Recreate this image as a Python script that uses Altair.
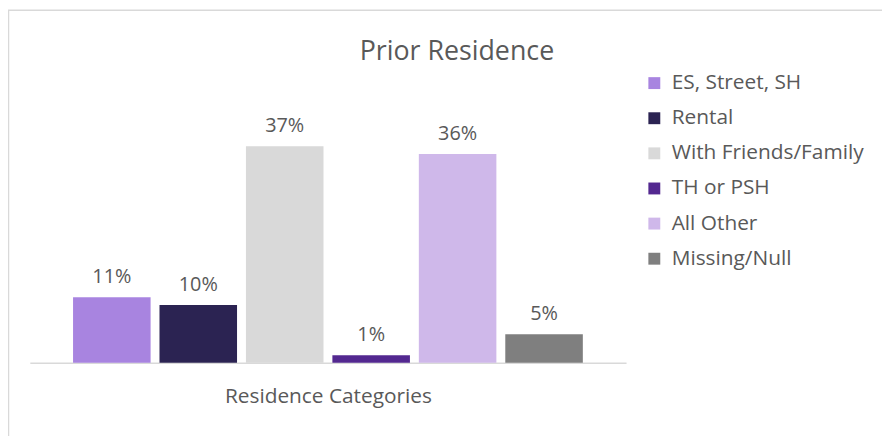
import altair as alt
import pandas as pd

categories = ["ES, Street, SH", "Rental", "With Friends/Family", "TH or PSH", "All Other", "Missing/Null"]
shares = [0.112, 0.099, 0.370, 0.013, 0.357, 0.049]
colors = ["#a884e0", "#2b2352", "#d9d9d9", "#532890", "#cfb8ea", "#7f7f7f"]

df = pd.DataFrame({"category": categories, "share": shares})
FONT = "Open Sans"
TXT = "#595959"

x = alt.X(
    "category:N", sort=categories,
    scale=alt.Scale(paddingInner=0.103, paddingOuter=0.5),
    axis=alt.Axis(labels=False, ticks=False, domainColor="#d9d9d9", domainWidth=1.5,
                  title="Residence Categories", titleFontSize=21, titleFont=FONT,
                  titleFontWeight="normal", titleColor=TXT, titlePadding=23),
)
y = alt.Y("share:Q", scale=alt.Scale(domain=[0, 0.4]), axis=None)
color = alt.Color(
    "category:N", sort=categories,
    scale=alt.Scale(domain=categories, range=colors),
    legend=alt.Legend(title=None, orient="none", legendX=619, legendY=-56.5,
                      symbolType="square", symbolSize=144, symbolStrokeWidth=0,
                      labelFontSize=21, labelFont=FONT, labelColor=TXT, labelLimit=400,
                      rowPadding=13.4, labelOffset=7, padding=0),
)

bars = alt.Chart(df).mark_bar().encode(x=x, y=y, color=color)
labels = alt.Chart(df).mark_text(dy=-14, baseline="alphabetic", fontSize=20, font=FONT, color=TXT).encode(
    x=x, y=y, text=alt.Text("share:Q", format=".0%")
)
frame = alt.Chart(pd.DataFrame({"a": [0]})).mark_rect(fillOpacity=0, stroke="#d9d9d9", strokeWidth=1.5).encode(
    x=alt.value(-21.5), x2=alt.value(900), y=alt.value(-119.5), y2=alt.value(500)
)

chart = alt.layer(frame, bars, labels).properties(
    width=601, height=236,
    autosize="none",
    padding={"left": 22, "top": 120, "right": 258, "bottom": 72},
    title=alt.Title("Prior Residence", fontSize=27, font=FONT, fontWeight="normal", color=TXT,
                    anchor="middle", dx=130, baseline="alphabetic", offset=0, dy=78),
).configure_view(stroke=None)

chart.save("out.html", embed_options={"renderer": "svg", "actions": False})
